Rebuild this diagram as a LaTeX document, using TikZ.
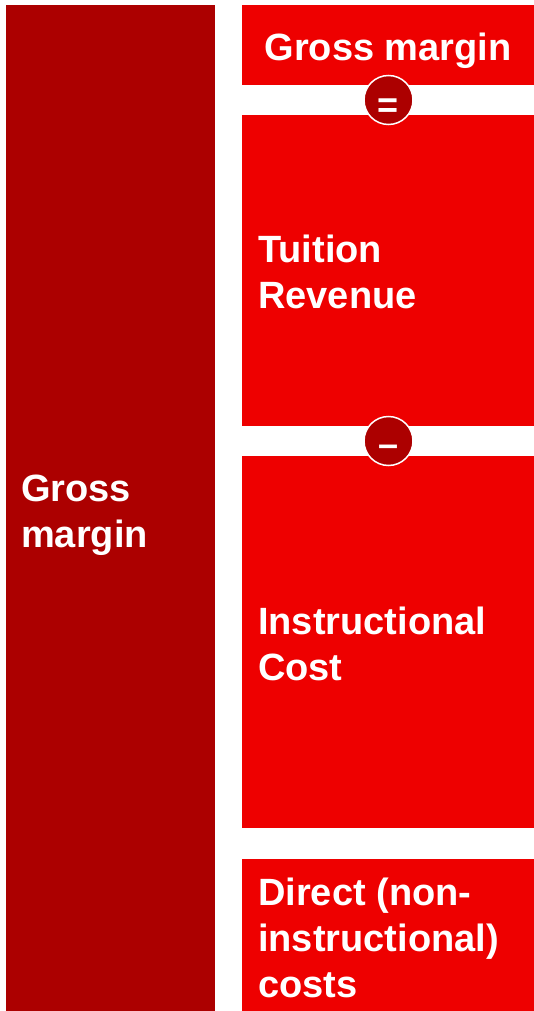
\documentclass[tikz,border=0pt]{standalone}
\usepackage{fontspec}
\setmainfont{Liberation Sans}
\definecolor{darkred}{RGB}{172,0,0}
\definecolor{brightred}{RGB}{238,0,0}
\begin{document}
\begin{tikzpicture}[x=1pt,y=-1pt,
  bar/.style={fill=darkred,draw=none},
  block/.style={fill=brightred,draw=none},
  label/.style={text=white,font=\fontsize{38}{46}\selectfont\bfseries,
    inner sep=0pt,align=left},
  opcircle/.style={circle,fill=darkred,draw=white,line width=1.5pt,
    minimum size=49pt,inner sep=0pt},
  opsign/.style={text=white,font=\fontsize{36}{36}\selectfont\bfseries,inner sep=0pt}]
  \useasboundingbox (0,0) rectangle (534,1011);

  % left summary bar
  \fill[bar] (6,5) rectangle (215,1011);
  % right-hand breakdown blocks
  \fill[block] (242,5) rectangle (534,85);
  \fill[block] (242,115) rectangle (534,426);
  \fill[block] (242,456) rectangle (534,828);
  \fill[block] (242,859) rectangle (534,1011);

  % texts (base anchor sits on the last line's baseline)
  \node[label,anchor=base west] (gm) at (21,547.5) {Gross\\margin};
  \node[label,anchor=base] (gmtop) at (388,61) {Gross margin};
  \node[label,anchor=base west] (rev) at (258,308) {Tuition\\Revenue};
  \node[label,anchor=base west] (cost) at (258,680.5) {Instructional\\Cost};
  \node[label,anchor=base west] (direct) at (258,997) {Direct (non-\\instructional)\\costs};

  % operator circles between the blocks
  \node[opcircle] (eq) at (388.5,100) {};
  \node[opsign,anchor=base] (eqsign) at (388.5,118) {=};
  \node[opcircle] (minus) at (388.5,441) {};
  \node[opsign,anchor=base] (minussign) at (388.5,456) {–};
\end{tikzpicture}
\end{document}
